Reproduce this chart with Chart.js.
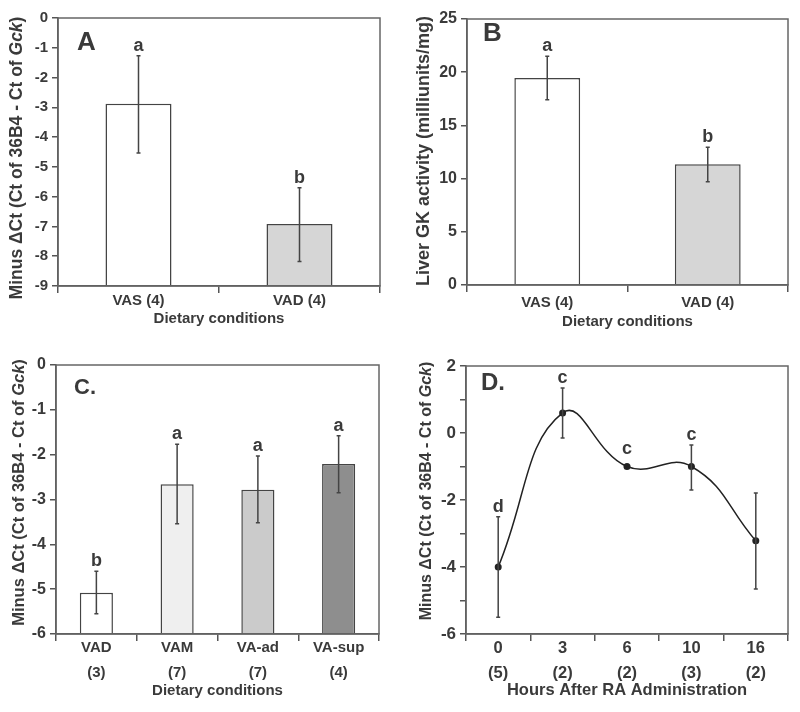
<!DOCTYPE html>
<html>
<head>
<meta charset="utf-8">
<script src="https://cdn.jsdelivr.net/npm/chart.js@4.4.0/dist/chart.umd.min.js"></script>
<style>
  body { margin: 0; background: #fff; width: 800px; height: 712px; position: relative; overflow: hidden; }
  canvas { position: absolute; }
</style>
</head>
<body>
<canvas id="chartA" width="400" height="345" style="left:0;top:0"></canvas>
<canvas id="chartB" width="400" height="345" style="left:400px;top:0"></canvas>
<canvas id="chartC" width="400" height="382" style="left:0;top:330px"></canvas>
<canvas id="chartD" width="400" height="382" style="left:400px;top:330px"></canvas>
<script>
// panel A: Gck mRNA, VAS vs VAD
const dietAB = ["VAS (4)", "VAD (4)"];
const gckA = [-2.88, -6.92];
const gckALow = [-4.53, -8.18];
const gckAHigh = [-1.27, -5.70];
const lettersA = ["a", "b"];

// panel B: liver GK activity
const gkB = [19.45, 11.35];
const gkBLow = [17.4, 9.7];
const gkBHigh = [21.5, 12.95];
const lettersB = ["a", "b"];

// panel C: four dietary conditions
const dietC = [["VAD", "(3)"], ["VAM", "(7)"], ["VA-ad", "(7)"], ["VA-sup", "(4)"]];
const gckC = [-5.08, -2.66, -2.78, -2.21];
const gckCLow = [-5.55, -3.54, -3.52, -2.85];
const gckCHigh = [-4.6, -1.77, -2.03, -1.58];
const lettersC = ["b", "a", "a", "a"];

// panel D: hours after RA
const hoursD = [["0", "(5)"], ["3", "(2)"], ["6", "(2)"], ["10", "(3)"], ["16", "(2)"]];
const gckD = [-4.0, 0.6, -1.0, -1.0, -3.22];
const gckDLow = [-5.5, -0.15, -1.0, -1.7, -4.66];
const gckDHigh = [-2.5, 1.34, -1.0, -0.36, -1.79];
const lettersD = ["d", "c", "c", "c", ""];

const FONT = "'Liberation Sans', Arial, sans-serif";
const TXT = "#3a3a3a";
const AX = "#555";

Chart.defaults.font.family = FONT;
Chart.defaults.font.weight = "bold";
Chart.defaults.color = TXT;

const ytitleA = [{ t: "Minus \u0394Ct (Ct of 36B4 - Ct of " }, { t: "Gck", i: true }, { t: ")" }];

function frame() {
  return {
    id: "frame",
    afterDatasetsDraw(chart) {
      const { ctx, chartArea: a } = chart;
      ctx.save();
      ctx.strokeStyle = "#666";
      ctx.lineWidth = 1.5;
      ctx.strokeRect(a.left, a.top, a.right - a.left, a.bottom - a.top);
      ctx.restore();
    }
  };
}

function errorBars(low, high, letters) {
  return {
    id: "errorBars",
    afterDatasetsDraw(chart) {
      const ctx = chart.ctx;
      const y = chart.scales.y;
      const meta = chart.getDatasetMeta(0);
      ctx.save();
      ctx.strokeStyle = "#444";
      ctx.lineWidth = 1.5;
      ctx.fillStyle = TXT;
      ctx.font = "bold 18px " + FONT;
      ctx.textAlign = "center";
      ctx.textBaseline = "alphabetic";
      meta.data.forEach((el, i) => {
        const x = el.x;
        const lo = y.getPixelForValue(low[i]);
        const hi = y.getPixelForValue(high[i]);
        if (low[i] !== high[i]) {
          ctx.beginPath();
          ctx.moveTo(x, lo); ctx.lineTo(x, hi);
          ctx.moveTo(x - 2, lo); ctx.lineTo(x + 2, lo);
          ctx.moveTo(x - 2, hi); ctx.lineTo(x + 2, hi);
          ctx.stroke();
        }
        const top = Math.min(hi, el.y - (low[i] === high[i] ? 8 : 0));
        ctx.fillText(letters[i], x, top - 5);
      });
      ctx.restore();
    }
  };
}

function label(text, x, y, size, parts) {
  return {
    id: "label",
    afterDraw(chart) {
      const ctx = chart.ctx;
      const a = chart.chartArea;
      ctx.save();
      ctx.fillStyle = TXT;
      // panel letter
      ctx.font = "bold " + size + "px " + FONT;
      ctx.textAlign = "left";
      ctx.textBaseline = "middle";
      ctx.fillText(text, x, y);
      // rotated y title with italic gene name
      const p = parts;
      ctx.translate(p.x, (a.top + a.bottom) / 2 + p.dy);
      ctx.rotate(-Math.PI / 2);
      let total = 0;
      p.segs.forEach(s => {
        ctx.font = (s.i ? "italic " : "") + "bold " + p.size + "px " + FONT;
        total += ctx.measureText(s.t).width;
      });
      let cx = -total / 2;
      p.segs.forEach(s => {
        ctx.font = (s.i ? "italic " : "") + "bold " + p.size + "px " + FONT;
        ctx.fillText(s.t, cx, 0);
        cx += ctx.measureText(s.t).width;
      });
      ctx.restore();
    }
  };
}

function yAxis(min, max, step, size, width, cb) {
  return {
    min: min, max: max,
    ticks: { stepSize: step, font: { size: size }, padding: 4, callback: cb || (v => v) },
    grid: { drawOnChartArea: false, color: AX, lineWidth: 1.5, tickLength: 6 },
    border: { color: AX, width: 1.5 },
    afterFit(s) { s.width = width; }
  };
}

function xAxis(size, lh, pad, title, tsize, tpad, height) {
  return {
    offset: true,
    ticks: { font: { size: size, lineHeight: lh }, padding: pad, maxRotation: 0, autoSkip: false },
    grid: { offset: true, drawOnChartArea: false, color: AX, lineWidth: 1.5, tickLength: 7 },
    border: { color: AX, width: 1.5 },
    title: { display: true, text: title, font: { size: tsize }, padding: { top: 0, bottom: tpad } },
    afterFit(s) { s.height = height; }
  };
}

const common = {
  responsive: false,
  animation: false,
  plugins: { legend: { display: false }, tooltip: { enabled: false } }
};

new Chart(document.getElementById("chartA"), {
  type: "bar",
  data: {
    labels: dietAB,
    datasets: [{
      data: gckA, base: -9,
      backgroundColor: ["#ffffff", "#d6d6d6"],
      borderColor: "#444", borderWidth: 1.5,
      barPercentage: 0.41, categoryPercentage: 1
    }]
  },
  options: {
    ...common,
    layout: { padding: { top: 18, right: 20, left: 0, bottom: 0 } },
    scales: {
      x: xAxis(15, 1.2, -1, "Dietary conditions", 15, 17, 59),
      y: yAxis(-9, 0, 1, 15, 58)
    }
  },
  plugins: [frame(), errorBars(gckALow, gckAHigh, lettersA),
    label("A", 77, 43, 26, { x: 17, dy: 6, size: 17.5, segs: ytitleA })]
});

new Chart(document.getElementById("chartB"), {
  type: "bar",
  data: {
    labels: dietAB,
    datasets: [{
      data: gkB,
      backgroundColor: ["#ffffff", "#d6d6d6"],
      borderColor: "#444", borderWidth: 1.5,
      barPercentage: 0.41, categoryPercentage: 1
    }]
  },
  options: {
    ...common,
    layout: { padding: { top: 19, right: 12, left: 0, bottom: 0 } },
    scales: {
      x: xAxis(15, 1.2, 2, "Dietary conditions", 15, 14, 60),
      y: yAxis(0, 25, 5, 16, 67)
    }
  },
  plugins: [frame(), errorBars(gkBLow, gkBHigh, lettersB),
    label("B", 83, 34, 26, { x: 24, dy: -1, size: 18, segs: [{ t: "Liver GK activity (milliunits/mg)" }] })]
});

new Chart(document.getElementById("chartC"), {
  type: "bar",
  data: {
    labels: dietC,
    datasets: [{
      data: gckC, base: -6,
      backgroundColor: ["#ffffff", "#efefef", "#cbcbcb", "#8e8e8e"],
      borderColor: "#444", borderWidth: 1.5,
      barPercentage: 0.41, categoryPercentage: 1
    }]
  },
  options: {
    ...common,
    layout: { padding: { top: 35, right: 21, left: 0, bottom: 0 } },
    scales: {
      x: xAxis(15, 25 / 15, -5.5, "Dietary conditions", 15, 12, 78),
      y: yAxis(-6, 0, 1, 16, 56)
    }
  },
  plugins: [frame(), errorBars(gckCLow, gckCHigh, lettersC),
    label("C.", 74, 58, 22, { x: 19, dy: -7, size: 16.5, segs: ytitleA })]
});

new Chart(document.getElementById("chartD"), {
  type: "line",
  data: {
    labels: hoursD,
    datasets: [{
      data: gckD,
      borderColor: "#222", borderWidth: 1.5, tension: 0.45,
      pointRadius: 3.5, pointBackgroundColor: "#222", pointBorderWidth: 0
    }]
  },
  options: {
    ...common,
    layout: { padding: { top: 36, right: 12, left: 0, bottom: 0 } },
    scales: {
      x: xAxis(16.5, 25 / 16.5, -5.5, "Hours After RA Administration", 16.5, 12, 78),
      y: yAxis(-6, 2, 1, 17, 66, v => (v % 2 === 0 ? v : ""))
    }
  },
  plugins: [frame(), errorBars(gckDLow, gckDHigh, lettersD),
    label("D.", 81, 53, 24, { x: 27, dy: -9, size: 16, segs: ytitleA })]
});
</script>
</body>
</html>
